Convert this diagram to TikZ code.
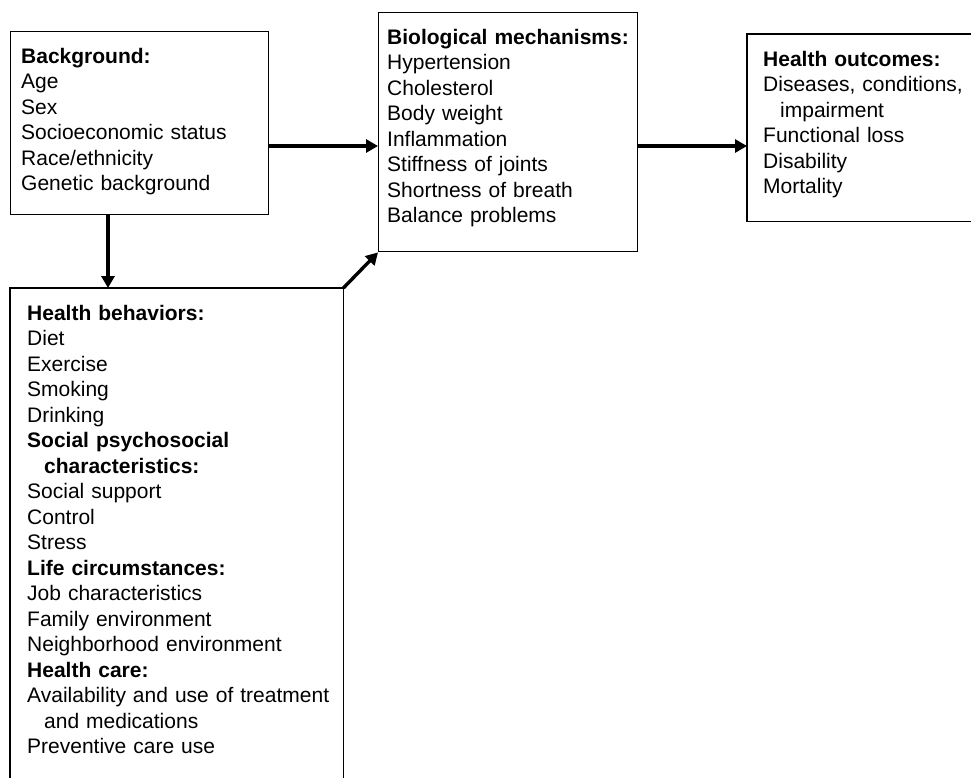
\documentclass[tikz,border=0pt]{standalone}
\usepackage{fontspec}
\setmainfont{Liberation Sans}
\usetikzlibrary{arrows.meta}

\begin{document}
\begin{tikzpicture}[x=1pt, y=-1pt,
    frame/.style={draw, line width=1.4pt, inner sep=0pt, anchor=north west},
    openframe/.style={frame, draw=none},
    listing/.style={anchor=north west, inner sep=0pt, align=left, text width=#1,
      font=\fontsize{21}{25.5}\selectfont},
    link/.style={line width=3.4pt, -{Triangle[length=12pt, width=13pt]}}]

    \useasboundingbox (0,0) rectangle (971,777);

    % boxes
    \node[frame, minimum width=258pt, minimum height=183pt] (bg) at (10,31) {};
    \node[frame, minimum width=259pt, minimum height=239pt] (bio) at (378,12) {};
    \node[openframe, minimum width=224pt, minimum height=186pt] (out) at (747,34) {};
    \node[openframe, minimum width=332pt, minimum height=489pt] (beh) at (10,288) {};
    \draw[line width=1.4pt] (out.north east) -- (out.north west) -- (out.south west) -- (out.south east);
    \draw[line width=1.4pt] (beh.south west) -- (beh.north west) -- (beh.north east) -- (beh.south east);

    % lists
    \node[listing=240pt] (bgtext) at (21,48) {\textbf{Background:}\\
        Age\\ Sex\\ Socioeconomic status\\ Race/ethnicity\\ Genetic background};
    \node[listing=245pt] (biotext) at (387,29) {\textbf{Biological mechanisms:}\\
        Hypertension\\ Cholesterol\\ Body weight\\ Inflammation\\
        Stiffness of joints\\ Shortness of breath\\ Balance problems};
    \node[listing=208pt] (outtext) at (763,51) {\textbf{Health outcomes:}\\
        Diseases, conditions,\\ \hspace*{17pt}impairment\\ Functional loss\\
        Disability\\ Mortality};
    \node[listing=320pt] (behtext) at (27,305) {\textbf{Health behaviors:}\\
        Diet\\ Exercise\\ Smoking\\ Drinking\\
        \textbf{Social psychosocial}\\ \hspace*{17pt}\textbf{characteristics:}\\
        Social support\\ Control\\ Stress\\
        \textbf{Life circumstances:}\\
        Job characteristics\\ Family environment\\ Neighborhood environment\\
        \textbf{Health care:}\\
        Availability and use of treatment\\ \hspace*{17pt}and medications\\
        Preventive care use};

    % arrows
    \coordinate (lane) at (0,146);
    \coordinate (drop) at (108,0);
    \draw[link] (bg.east |- lane) -- (bio.west |- lane);
    \draw[link] (bio.east |- lane) -- (out.west |- lane);
    \draw[link] (bg.south -| drop) -- (beh.north -| drop);
    \draw[link] (beh.north east) -- (bio.south west);
\end{tikzpicture}
\end{document}
